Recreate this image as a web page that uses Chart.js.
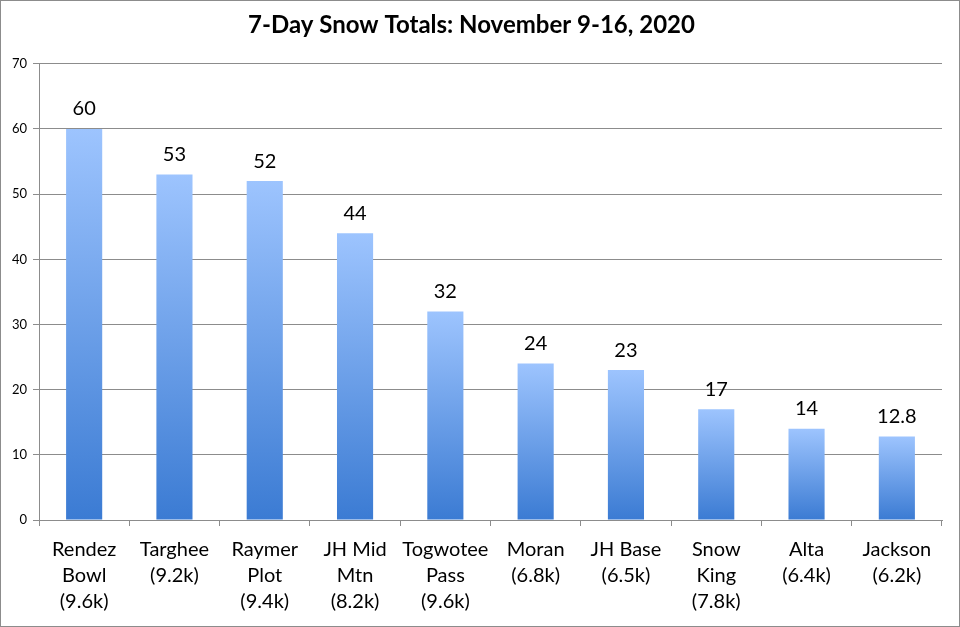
<!DOCTYPE html>
<html>
<head>
<meta charset="utf-8">
<script src="https://cdn.jsdelivr.net/npm/chart.js@4"></script>
<style>
  html, body { margin: 0; padding: 0; background: #fff; }
  #wrap { width: 960px; height: 627px; position: relative; }
</style>
</head>
<body>
<div id="wrap"><canvas id="myChart" width="960" height="627"></canvas></div>
<script>
const ctx = document.getElementById('myChart');

const estacoes = [
  ['Rendez', 'Bowl', '(9.6k)'],
  ['Targhee', '(9.2k)'],
  ['Raymer', 'Plot', '(9.4k)'],
  ['JH Mid', 'Mtn', '(8.2k)'],
  ['Togwotee', 'Pass', '(9.6k)'],
  ['Moran', '(6.8k)'],
  ['JH Base', '(6.5k)'],
  ['Snow', 'King', '(7.8k)'],
  ['Alta', '(6.4k)'],
  ['Jackson', '(6.2k)']
];
const neve = [60, 53, 52, 44, 32, 24, 23, 17, 14, 12.8];
const rotulos = ['60', '53', '52', '44', '32', '24', '23', '17', '14', '12.8'];
const yTicks = [0, 10, 20, 30, 40, 50, 60, 70];

// gradiente por barra: claro em cima, escuro embaixo
function corBarra(context) {
  const chart = context.chart;
  if (!chart.chartArea || context.type !== 'data') return '#6fa0ea';
  const y = chart.scales.y;
  const topo = y.getPixelForValue(context.raw);
  const base = y.getPixelForValue(0);
  const g = chart.ctx.createLinearGradient(0, topo, 0, base);
  g.addColorStop(0, '#9dc4fe');
  g.addColorStop(1, '#3b7bd3');
  return g;
}

const moldura = {
  id: 'moldura',
  afterDraw(chart) {
    const c = chart.ctx;
    c.save();
    c.strokeStyle = '#8c8c8c';
    c.lineWidth = 1;
    c.strokeRect(0.5, 0.5, chart.width - 1, chart.height - 1);
    c.restore();
  }
};

const valores = {
  id: 'valores',
  afterDatasetsDraw(chart) {
    const c = chart.ctx;
    const meta = chart.getDatasetMeta(0);
    c.save();
    c.font = '20px Lato';
    c.fillStyle = '#000';
    c.textAlign = 'center';
    c.textBaseline = 'middle';
    meta.data.forEach((bar, i) => {
      c.fillText(rotulos[i], bar.x, bar.y - 20);
    });
    c.restore();
  }
};

new Chart(ctx, {
  type: 'bar',
  data: {
    labels: estacoes,
    datasets: [{
      label: 'Snow (in)',
      data: neve,
      backgroundColor: corBarra,
      borderWidth: 0,
      barPercentage: 0.4,
      categoryPercentage: 1.0
    }]
  },
  options: {
    responsive: false,
    animation: false,
    layout: { padding: { left: 1, right: 18, top: 11, bottom: 1 } },
    scales: {
      y: {
        min: 0,
        max: 70,
        afterBuildTicks: (s) => { s.ticks = yTicks.map(v => ({ value: v })); },
        afterFit: (s) => { s.width = 38; },
        border: { color: '#8c8c8c' },
        grid: { color: '#8c8c8c', tickLength: 6 },
        ticks: { color: '#000', padding: 6, font: { family: 'Lato', size: 13 } }
      },
      x: {
        border: { color: '#8c8c8c' },
        grid: { drawOnChartArea: false, color: '#8c8c8c', tickLength: 6, offset: true },
        ticks: {
          color: '#000',
          padding: 11,
          maxRotation: 0,
          autoSkip: false,
          font: { family: 'Lato', size: 20, lineHeight: 1.3 }
        }
      }
    },
    plugins: {
      legend: { display: false },
      tooltip: { enabled: false },
      title: {
        display: true,
        text: '7-Day Snow Totals: November 9-16, 2020',
        color: '#000',
        font: { family: 'Lato', size: 24, weight: 'bold' },
        padding: { top: 0, bottom: 24 }
      }
    }
  },
  plugins: [moldura, valores]
});
</script>
</body>
</html>
